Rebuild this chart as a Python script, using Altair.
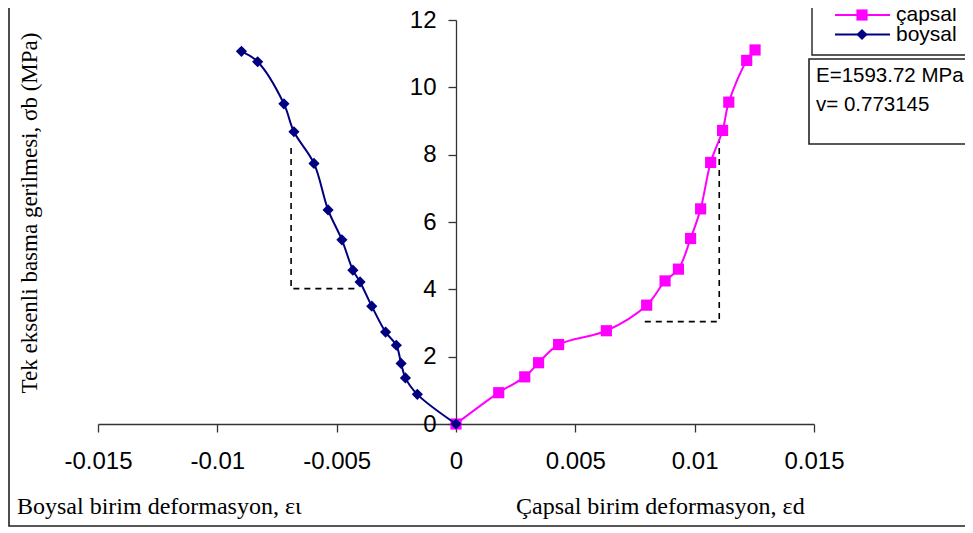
import altair as alt
import pandas as pd

# ---- data ----
boysal_x = [0.0, -0.00162, -0.00212, -0.00230, -0.00250, -0.00295, -0.00353, -0.00402,
            -0.00432, -0.00478, -0.00536, -0.00595, -0.00679, -0.00721, -0.00831, -0.00899]
boysal_y = [0.0, 0.88, 1.37, 1.80, 2.34, 2.73, 3.50, 4.22,
            4.57, 5.47, 6.36, 7.74, 8.68, 9.51, 10.76, 11.07]

capsal_x = [0.0, 0.00179, 0.00288, 0.00346, 0.00430, 0.00630, 0.00799, 0.00876,
            0.00932, 0.00983, 0.01025, 0.01067, 0.01117, 0.01143, 0.01218, 0.01253]
capsal_y = [0.0, 0.93, 1.40, 1.82, 2.36, 2.77, 3.53, 4.25,
            4.60, 5.51, 6.39, 7.77, 8.72, 9.56, 10.80, 11.11]

series_names = ["çapsal", "boysal"]
series_colors = ["#FF00FF", "#000080"]
series_shapes = ["square", "diamond"]

x_ticks = [-0.015, -0.01, -0.005, 0, 0.005, 0.01, 0.015]
y_ticks = [0, 2, 4, 6, 8, 10, 12]

dash_left_x = [-0.00691, -0.00691, -0.00405]
dash_left_y = [8.2, 4.02, 4.02]
dash_right_x = [0.00791, 0.01103, 0.01103]
dash_right_y = [3.04, 3.04, 8.45]

info_lines = ["E=1593.72 MPa", "v= 0.773145"]
x_title_left = "Boysal birim deformasyon, \u03b5\u03b9"
x_title_right = "Çapsal birim deformasyon, \u03b5d"
y_title = "Tek eksenli basma gerilmesi, \u03c3b  (MPa)"

# ---- tables ----
df_b = pd.DataFrame({"x": boysal_x, "y": boysal_y, "o": range(len(boysal_x))})
df_c = pd.DataFrame({"x": capsal_x, "y": capsal_y, "o": range(len(capsal_x))})
df_dash = pd.DataFrame({
    "x": dash_left_x + dash_right_x,
    "y": dash_left_y + dash_right_y,
    "g": ["L"] * 3 + ["R"] * 3,
    "o": list(range(3)) + list(range(3)),
})
one = pd.DataFrame({"a": [0]})

W, H = 716, 404
xs = alt.Scale(domain=[-0.015, 0.015], nice=False, zero=False)
ys = alt.Scale(domain=[0, 12], nice=False)

SANS = "Liberation Sans"
SERIF = "Liberation Serif"

x_axis = alt.Axis(values=x_ticks, labelExpr="'' + datum.value", title=None, grid=False,
                  tickSize=8, labelPadding=17, labelFontSize=24, labelFont=SANS,
                  labelColor="black", domainColor="#333333", tickColor="#333333",
                  domainWidth=1.3, tickWidth=1.3, labelFlush=False, labelOverlap=False)
y_axis = alt.Axis(values=y_ticks, title=None, grid=False, offset=-358,
                  tickSize=8, labelPadding=12, labelFontSize=24, labelFont=SANS,
                  labelColor="black", domainColor="#333333", tickColor="#333333",
                  domainWidth=1.3, tickWidth=1.3, labelFlush=False, labelOverlap=False)

border = alt.Chart(one).mark_rect(fill="transparent", stroke="#222222", strokeWidth=1.6).encode(
    x=alt.value(-89), x2=alt.value(1000), y=alt.value(-60), y2=alt.value(506))

dash = alt.Chart(df_dash).mark_line(color="black", strokeDash=[6, 5], strokeWidth=1.6).encode(
    x=alt.X("x:Q", scale=xs, axis=x_axis),
    y=alt.Y("y:Q", scale=ys, axis=y_axis),
    detail="g:N", order="o:Q")

def series(df, color, shape):
    line = alt.Chart(df).mark_line(color=color, strokeWidth=2, interpolate="catmull-rom").encode(
        x=alt.X("x:Q", scale=xs), y=alt.Y("y:Q", scale=ys), order="o:Q")
    pts = alt.Chart(df).mark_point(shape=shape, filled=True, size=125, color=color, opacity=1).encode(
        x=alt.X("x:Q", scale=xs), y=alt.Y("y:Q", scale=ys))
    return [line, pts]

layers = [border, dash]
layers += series(df_c, series_colors[0], series_shapes[0])
layers += series(df_b, series_colors[1], series_shapes[1])

# axis titles
layers.append(alt.Chart(one).mark_text(text=x_title_left, font=SERIF, fontSize=24, align="left",
                                       baseline="middle", color="black").encode(
    x=alt.value(-81), y=alt.value(487)))
layers.append(alt.Chart(one).mark_text(text=x_title_right, font=SERIF, fontSize=24, align="left",
                                       baseline="middle", color="black").encode(
    x=alt.value(418), y=alt.value(487)))
layers.append(alt.Chart(one).mark_text(text=y_title, font=SERIF, fontSize=23, angle=270,
                                       align="center", baseline="middle", color="black").encode(
    x=alt.value(-68), y=alt.value(193)))

# legend box
layers.append(alt.Chart(one).mark_rect(fill="white", stroke="#222222", strokeWidth=1.4).encode(
    x=alt.value(714), x2=alt.value(1000), y=alt.value(-60), y2=alt.value(35)))
for i, (nm, col, shp) in enumerate(zip(series_names, series_colors, series_shapes)):
    yy = -5 + 19.5 * i
    layers.append(alt.Chart(one).mark_rule(color=col, strokeWidth=2).encode(
        x=alt.value(737), x2=alt.value(792), y=alt.value(yy)))
    layers.append(alt.Chart(one).mark_point(shape=shp, filled=True, size=125, color=col, opacity=1).encode(
        x=alt.value(764), y=alt.value(yy)))
    layers.append(alt.Chart(one).mark_text(text=nm, font=SANS, fontSize=21, align="left",
                                           baseline="middle", color="black").encode(
        x=alt.value(798), y=alt.value(yy)))

# info box
layers.append(alt.Chart(one).mark_rect(fill="white", stroke="#222222", strokeWidth=1.6).encode(
    x=alt.value(711), x2=alt.value(1000), y=alt.value(39), y2=alt.value(124)))
for i, t in enumerate(info_lines):
    layers.append(alt.Chart(one).mark_text(text=t, font=SANS, fontSize=20.5, align="left",
                                           baseline="middle", color="black").encode(
        x=alt.value(718), y=alt.value(56 + 29 * i)))

chart = alt.layer(*layers).properties(
    width=W, height=H,
    autosize=alt.AutoSizeParams(type="none"),
    padding={"left": 90, "top": 12, "right": 151, "bottom": 105},
).configure_view(stroke="transparent")

chart.save("out.html", embed_options={"renderer": "svg", "actions": False})
